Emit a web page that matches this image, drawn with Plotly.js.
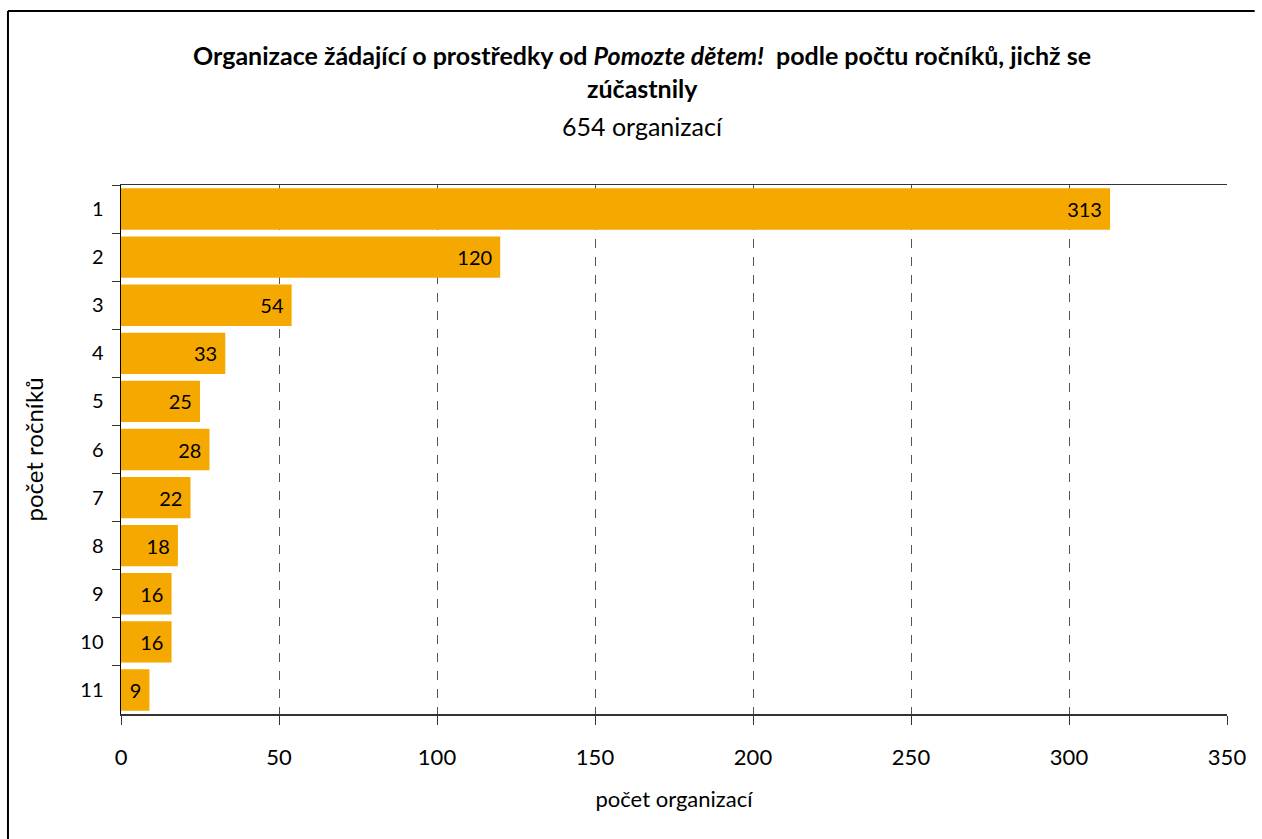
<!DOCTYPE html>
<html><head><meta charset="utf-8">
<script src="https://cdn.plot.ly/plotly-3.0.1.min.js"></script>
<style>html,body{margin:0;padding:0;background:#fff;overflow:hidden}</style>
</head><body><div id="chart" style="width:1262px;height:839px"></div>
<script>
const categories = ["1","2","3","4","5","6","7","8","9","10","11"];
const counts = [313,120,54,33,25,28,22,18,16,16,9];
const xTicks = [0,50,100,150,200,250,300,350];

const FONT = "Lato, 'Open Sans', sans-serif";
const trace = {
  type: "bar", orientation: "h",
  y: categories, x: counts,
  text: counts.map(v => v + "\u00a0"), textposition: "inside", insidetextanchor: "end",
  textfont: {family: FONT, size: 20, color: "#000"},
  marker: {color: "#F5A800", line: {width: 0}},
  hoverinfo: "none", cliponaxis: false
};
const layout = {
  width: 1262, height: 839,
  margin: {l: 121, r: 35, t: 185, b: 125},
  paper_bgcolor: "#fff", plot_bgcolor: "#fff",
  font: {family: FONT, size: 20, color: "#000"},
  bargap: 0.14,
  showlegend: false,
  xaxis: {
    range: [0, 350], tickvals: xTicks, ticktext: xTicks.map(String),
    showgrid: true, gridcolor: "#555", griddash: "dash", gridwidth: 1,
    zeroline: false,
    showline: true, linecolor: "#333", linewidth: 1.5, mirror: true,
    ticks: "outside", ticklen: 9, tickcolor: "#333",
    ticklabelstandoff: 14,
    tickfont: {family: FONT, size: 22},
    title: {text: "počet organizací", font: {family: FONT, size: 22}, standoff: 22}
  },
  yaxis: {
    type: "category", autorange: "reversed",
    showgrid: false, zeroline: false,
    showline: true, linecolor: "#000", linewidth: 1.5,
    ticks: "outside", tickson: "boundaries", ticklen: 8, tickcolor: "#333",
    ticklabelstandoff: 12,
    tickfont: {family: FONT, size: 20},
    title: {text: "počet ročníků", font: {family: FONT, size: 24}, standoff: 30}
  },
  annotations: [
    {xref: "paper", yref: "paper", x: 0.4715, y: 1.2457, xanchor: "center", yanchor: "middle", showarrow: false,
     text: "<b>Organizace žádající o prostředky od <i>Pomozte dětem!</i>  podle počtu ročníků, jichž se</b>",
     font: {family: FONT, size: 25}},
    {xref: "paper", yref: "paper", x: 0.4715, y: 1.1834, xanchor: "center", yanchor: "middle", showarrow: false,
     text: "<b>zúčastnily</b>", font: {family: FONT, size: 25}},
    {xref: "paper", yref: "paper", x: 0.4715, y: 1.1115, xanchor: "center", yanchor: "middle", showarrow: false,
     text: "654 organizací", font: {family: FONT, size: 25}}
  ],
  shapes: [
    {type: "line", xref: "paper", yref: "paper", x0: -0.1022, x1: -0.1022, y0: -0.5, y1: 1.329,
     line: {color: "#000", width: 2}},
    {type: "line", xref: "paper", yref: "paper", x0: -0.1022, x1: 1.025, y0: 1.329, y1: 1.329,
     line: {color: "#000", width: 2}}
  ]
};
Plotly.newPlot("chart", [trace], layout, {staticPlot: true, displayModeBar: false});
</script></body></html>
